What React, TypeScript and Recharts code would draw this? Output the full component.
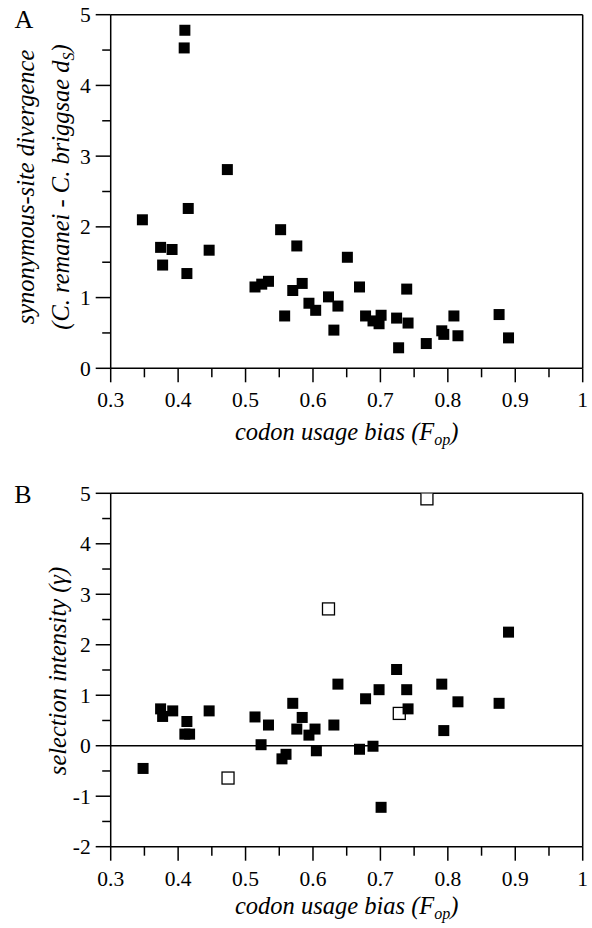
import React from 'react';
import { ScatterChart, Scatter, XAxis, YAxis, ReferenceLine } from 'recharts';

// Panel A: codon usage bias (Fop) vs synonymous-site divergence (dS)
const fopA = [0.410, 0.409, 0.473, 0.415, 0.347, 0.374, 0.391, 0.377, 0.413, 0.446, 0.552, 0.514, 0.524, 0.534, 0.558, 0.570, 0.576, 0.584, 0.651, 0.594, 0.604, 0.623, 0.637, 0.631, 0.669, 0.678, 0.689, 0.698, 0.701, 0.724, 0.739, 0.741, 0.727, 0.768, 0.791, 0.794, 0.809, 0.815, 0.876, 0.890];
const dsA = [4.78, 4.53, 2.81, 2.26, 2.10, 1.71, 1.68, 1.46, 1.34, 1.67, 1.96, 1.15, 1.19, 1.23, 0.74, 1.10, 1.73, 1.20, 1.57, 0.92, 0.82, 1.01, 0.88, 0.54, 1.15, 0.74, 0.67, 0.63, 0.75, 0.71, 1.12, 0.64, 0.29, 0.35, 0.53, 0.48, 0.74, 0.46, 0.76, 0.43];

// Panel B: selection intensity (gamma), filled squares
const fopBFilled = [0.348, 0.374, 0.377, 0.392, 0.413, 0.410, 0.417, 0.446, 0.514, 0.523, 0.534, 0.554, 0.560, 0.570, 0.584, 0.576, 0.594, 0.603, 0.605, 0.631, 0.637, 0.669, 0.678, 0.689, 0.698, 0.701, 0.724, 0.739, 0.741, 0.791, 0.794, 0.815, 0.876, 0.890];
const gammaBFilled = [-0.45, 0.73, 0.58, 0.69, 0.48, 0.23, 0.23, 0.69, 0.57, 0.02, 0.41, -0.26, -0.17, 0.84, 0.56, 0.33, 0.21, 0.33, -0.10, 0.41, 1.22, -0.07, 0.93, -0.01, 1.11, -1.22, 1.51, 1.11, 0.73, 1.22, 0.30, 0.87, 0.84, 2.25];
// Panel B: open squares
const fopBOpen = [0.474, 0.623, 0.728, 0.769];
const gammaBOpen = [-0.64, 2.71, 0.64, 4.89];

const xTicks = [0.3, 0.35, 0.4, 0.45, 0.5, 0.55, 0.6, 0.65, 0.7, 0.75, 0.8, 0.85, 0.9, 0.95, 1];
const yTicksA = [0, 0.5, 1, 1.5, 2, 2.5, 3, 3.5, 4, 4.5, 5];
const yTicksB = [-2, -1.5, -1, -0.5, 0, 0.5, 1, 1.5, 2, 2.5, 3, 3.5, 4, 4.5, 5];

const dataA = fopA.map((x, i) => ({ x, y: dsA[i] }));
const dataBFilled = fopBFilled.map((x, i) => ({ x, y: gammaBFilled[i] }));
const dataBOpen = fopBOpen.map((x, i) => ({ x, y: gammaBOpen[i] }));

const FONT = "'Liberation Serif', 'Times New Roman', serif";
const TICK_FS = 21.5;
const TITLE_FS = 24.5;
const SUB_FS = 16;

const isMajorX = (v: number) => Math.abs(v * 10 - Math.round(v * 10)) < 1e-6;
const isMajorY = (v: number) => Math.abs(v - Math.round(v)) < 1e-6;

const XTick = (props: any) => {
  const { x, y, payload } = props;
  const v = payload.value;
  const major = isMajorX(v);
  return (
    <g>
      <line x1={x} x2={x} y1={y} y2={y + (major ? 14 : 9)} stroke="#000" strokeWidth={1.5} />
      {major && (
        <text x={x} y={y + 39} textAnchor="middle" fontFamily={FONT} fontSize={TICK_FS} fill="#000">
          {String(Math.round(v * 10) / 10)}
        </text>
      )}
    </g>
  );
};

const YTick = (props: any) => {
  const { x, y, payload } = props;
  const v = payload.value;
  const major = isMajorY(v);
  return (
    <g>
      <line x1={x - (major ? 15 : 8.5)} x2={x} y1={y} y2={y} stroke="#000" strokeWidth={1.5} />
      {major && (
        <text x={x - 20} y={y} dy="0.35em" textAnchor="end" fontFamily={FONT} fontSize={TICK_FS} fill="#000">
          {String(Math.round(v))}
        </text>
      )}
    </g>
  );
};

const FilledSquare = (props: any) => {
  const { cx, cy } = props;
  return <rect x={cx - 5.5} y={cy - 5.5} width={11} height={11} fill="#000" />;
};

const OpenSquare = (props: any) => {
  const { cx, cy } = props;
  return <rect x={cx - 6} y={cy - 6} width={12} height={12} fill="#fff" stroke="#000" strokeWidth={1.3} />;
};

const W = 592;

export default function App() {
  return (
    <div style={{ position: 'absolute', left: 0, top: 0, width: W, height: 928, background: '#fff' }}>
      {/* Panel A */}
      <div style={{ position: 'absolute', left: 0, top: 0 }}>
        <ScatterChart width={W} height={460} margin={{ top: 14.7, right: 9.3, bottom: 31.7, left: 0 }}>
          <XAxis
            type="number"
            dataKey="x"
            domain={[0.3, 1]}
            ticks={xTicks}
            interval={0}
            tickSize={0}
            tickMargin={0}
            tickLine={false}
            tick={<XTick />}
            height={60}
            axisLine={{ stroke: '#000', strokeWidth: 1.5 }}
            allowDataOverflow
          />
          <YAxis
            type="number"
            dataKey="y"
            domain={[0, 5]}
            ticks={yTicksA}
            interval={0}
            tickSize={0}
            tickMargin={0}
            tickLine={false}
            tick={<YTick />}
            width={110.7}
            axisLine={{ stroke: '#000', strokeWidth: 1.5 }}
            allowDataOverflow
          />
          <ReferenceLine y={5} stroke="#000" strokeWidth={1.5} />
          <ReferenceLine x={1} stroke="#000" strokeWidth={1.5} />
          <Scatter data={dataA} shape={<FilledSquare />} isAnimationActive={false} />
        </ScatterChart>
      </div>
      {/* Panel B */}
      <div style={{ position: 'absolute', left: 0, top: 464 }}>
        <ScatterChart width={W} height={464} margin={{ top: 29.3, right: 9.3, bottom: 21.3, left: 0 }}>
          <XAxis
            type="number"
            dataKey="x"
            domain={[0.3, 1]}
            ticks={xTicks}
            interval={0}
            tickSize={0}
            tickMargin={0}
            tickLine={false}
            tick={<XTick />}
            height={60}
            axisLine={{ stroke: '#000', strokeWidth: 1.5 }}
            allowDataOverflow
          />
          <YAxis
            type="number"
            dataKey="y"
            domain={[-2, 5]}
            ticks={yTicksB}
            interval={0}
            tickSize={0}
            tickMargin={0}
            tickLine={false}
            tick={<YTick />}
            width={110.7}
            axisLine={{ stroke: '#000', strokeWidth: 1.5 }}
            allowDataOverflow
          />
          <ReferenceLine y={5} stroke="#000" strokeWidth={1.5} />
          <ReferenceLine x={1} stroke="#000" strokeWidth={1.5} />
          <ReferenceLine y={0} stroke="#000" strokeWidth={1.5} />
          <Scatter data={dataBOpen} shape={<OpenSquare />} isAnimationActive={false} />
          <Scatter data={dataBFilled} shape={<FilledSquare />} isAnimationActive={false} />
        </ScatterChart>
      </div>
      {/* Titles and axis labels */}
      <svg width={W} height={928} style={{ position: 'absolute', left: 0, top: 0, pointerEvents: 'none' }}>
        <text x={24} y={28} textAnchor="middle" fontFamily={FONT} fontSize={26} fill="#000">A</text>
        <text x={34} y={187} transform="rotate(-90, 34, 187)" textAnchor="middle" fontFamily={FONT} fontStyle="italic" fontSize={TITLE_FS} fill="#000">
          synonymous-site divergence
        </text>
        <text x={69} y={187} transform="rotate(-90, 69, 187)" textAnchor="middle" fontFamily={FONT} fontStyle="italic" fontSize={TITLE_FS} fill="#000">
          (C. remanei - C. briggsae d<tspan fontSize={SUB_FS} dy={5}>S</tspan><tspan dy={-5}>)</tspan>
        </text>
        <text x={346.7} y={440} textAnchor="middle" fontFamily={FONT} fontStyle="italic" fontSize={TITLE_FS} fill="#000">
          codon usage bias (F<tspan fontSize={SUB_FS} dy={5}>op</tspan><tspan dy={-5}>)</tspan>
        </text>

        <text x={23} y={503} textAnchor="middle" fontFamily={FONT} fontSize={26} fill="#000">B</text>
        <text x={66} y={671} transform="rotate(-90, 66, 671)" textAnchor="middle" fontFamily={FONT} fontStyle="italic" fontSize={TITLE_FS} fill="#000">
          selection intensity (γ)
        </text>
        <text x={346.7} y={914} textAnchor="middle" fontFamily={FONT} fontStyle="italic" fontSize={TITLE_FS} fill="#000">
          codon usage bias (F<tspan fontSize={SUB_FS} dy={5}>op</tspan><tspan dy={-5}>)</tspan>
        </text>
      </svg>
    </div>
  );
}
